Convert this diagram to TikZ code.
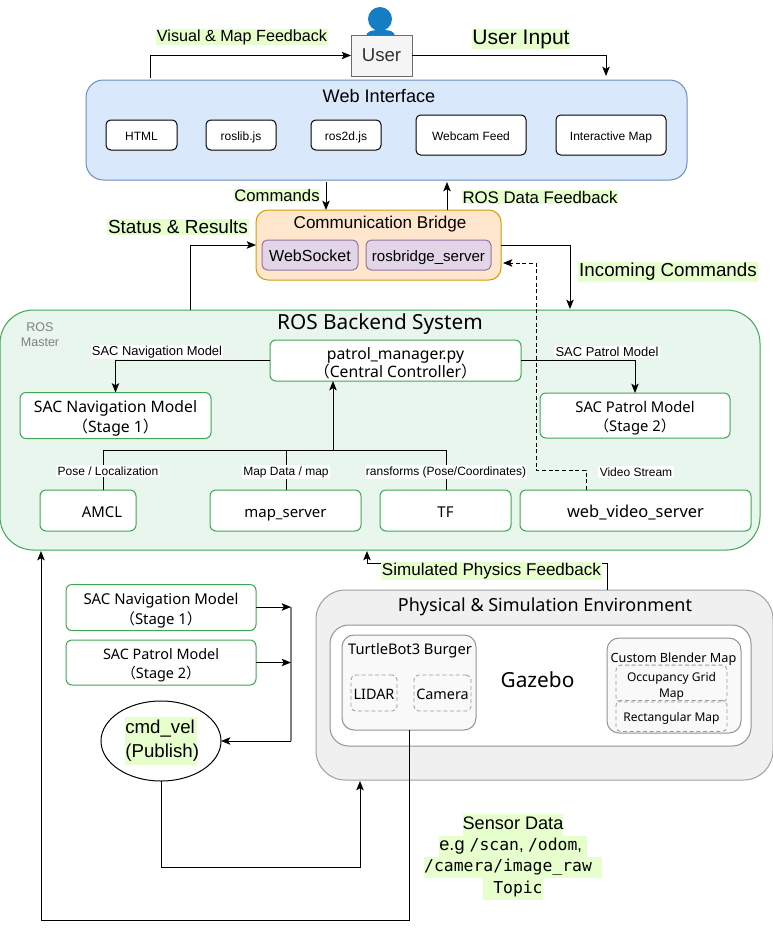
\documentclass[tikz,border=0pt]{standalone}
\usepackage{fontspec}
\setmainfont{Noto Sans}
\newfontfamily\ar{Liberation Sans}
\newfontfamily\cjk{Noto Sans CJK SC}
\newfontfamily\mn{DejaVu Sans Mono}
\usetikzlibrary{arrows.meta,shapes.geometric}
\newcommand\fsz[2]{\fontsize{#1}{#2}\selectfont}
\newcommand\lp{{\cjk （}}
\newcommand\rp{{\cjk ）}}
\newcommand\sg{\rule[-.3\baselineskip]{0pt}{1.3\baselineskip}}
\definecolor{hl}{HTML}{E6FFCC}
\definecolor{grn}{HTML}{3FA655}
\definecolor{rosfill}{HTML}{E9F6EE}
\definecolor{purplebd}{HTML}{9673A6}
\definecolor{purplefill}{HTML}{E1D5E7}
\newcommand\hb[1]{{\setlength{\fboxsep}{0pt}\colorbox{hl}{\strut #1}}}
\tikzset{
 sz/.style 2 args={minimum width=#1*0.75pt,minimum height=#2*0.75pt,inner sep=0pt,outer sep=0pt,align=center},
 webbox/.style={draw=black,fill=white,rounded corners=3.5pt,line width=.75pt,font=\ar\fsz{9}{11}},
 greenbox/.style={draw=grn,fill=white,rounded corners=4.5pt,line width=.75pt,font=\fsz{11.2}{15}},
 purplebox/.style={draw=purplebd,fill=purplefill,rounded corners=4pt,line width=.75pt},
 graybox/.style={draw=gray!85,fill=black!2.5,line width=.75pt,rounded corners=9pt},
 dashbox/.style={draw=gray!80,dashed,dash pattern=on 3pt off 2pt,line width=.6pt,rounded corners=3.5pt},
 hlabel/.style={fill=hl,inner sep=.6pt,outer sep=0pt,font=\ar\fsz{12.5}{14}},
 wlabel/.style={fill=white,inner sep=1pt,outer sep=0pt,font=\ar\fsz{9}{10}},
 arr/.style={draw=black,line width=.75pt,-{Stealth[length=7pt,width=5.6pt,inset=1.6pt]}},
 wire/.style={draw=black,line width=.75pt},
}
\begin{document}
\begin{tikzpicture}[x=.75pt,y=-.75pt]
\useasboundingbox (0,0) rectangle (773,929);

% user icon
\fill[fill={rgb,255:red,20;green,125;blue,195}] (380,19) ellipse (12 and 12);
\fill[fill={rgb,255:red,20;green,125;blue,195}] (366,37) .. controls (366,31) and (372,30) .. (381,30) .. controls (390,30) and (395,31) .. (395,37) -- cycle;
\node[sz={61}{41},draw=gray!85!black,fill=black!4,line width=.75pt,font=\ar\fsz{14}{16},text=black!80] (user) at (381.5,55.5) {User};

% web interface
\node[sz={601}{100},draw={rgb,255:red,108;green,142;blue,191},fill={rgb,255:red,218;green,232;blue,252},rounded corners=13pt,line width=.75pt] (web) at (386.5,130) {};
\node[font=\ar\fsz{13.6}{15}] (webt) at (379,96) {Web Interface};
\node[webbox,sz={71}{30}] (html) at (141.5,135) {\sg HTML};
\node[webbox,sz={70}{30}] (roslib) at (241,135) {\sg roslib.js};
\node[webbox,sz={70}{30}] (ros2d) at (346,135) {\sg ros2d.js};
\node[webbox,sz={110}{40}] (webcam) at (471,135) {\sg Webcam Feed};
\node[webbox,sz={110}{40}] (imap) at (611,135) {\sg Interactive Map};

% bridge
\node[sz={245}{70},draw={rgb,255:red,215;green,155;blue,0},fill={rgb,255:red,255;green,230;blue,204},rounded corners=9pt,line width=.75pt] (bridge) at (378.5,245) {};
\node[font=\ar\fsz{12.8}{15}] (bridget) at (380,224) {Communication Bridge};
\node[purplebox,sz={96}{30},font=\ar\fsz{12}{14}] (ws) at (310,255) {\sg WebSocket};
\node[purplebox,sz={125}{30},font=\ar\fsz{11.3}{14}] (rbs) at (428.5,255) {\sg rosbridge\_server};

% ROS backend
\node[sz={760}{240},draw=grn,fill=rosfill,rounded corners=25pt,line width=.75pt] (ros) at (380,430) {};
\node[font=\fsz{15.6}{18}] (rost) at (380,324.5) {ROS Backend System};
\node[font=\ar\fsz{9.4}{11.5},text=gray,align=center] (rosm) at (40,334.5) {ROS\\Master};
\node[greenbox,sz={251}{41},font=\fsz{11.8}{13.5}] (pm) at (395.5,360.5) {\rule{0pt}{14.5pt}patrol\_manager.py\\\lp Central Controller\rp\rule[-2.5pt]{0pt}{2.5pt}};
\node[greenbox,sz={191}{45},font=\fsz{11.8}{15}] (nav) at (115.5,415.5) {\sg SAC Navigation Model\\\lp Stage 1\rp\strut};
\node[greenbox,sz={190}{45},font=\fsz{11.1}{14.5}] (pat) at (635,415.5) {\sg SAC Patrol Model\\\lp Stage 2\rp\strut};
\node[greenbox,sz={96}{41}] (amcl) at (88,510.5) {\sg\hspace*{21pt}AMCL};
\node[greenbox,sz={151}{41}] (map) at (285.5,510.5) {\sg map\_server};
\node[greenbox,sz={131}{41}] (tf) at (445.5,510.5) {\sg TF};
\node[greenbox,sz={231}{41},font=\fsz{12.3}{15}] (wvs) at (635.5,510.5) {\sg web\_video\_server};

% ROS internal connectors
\coordinate (bus) at (333,450);
\draw[arr] (pm.west) -- (nav.north |- pm.west) -- (nav.north);
\draw[arr] (pm.east) -- (pat.north |- pm.east) -- (pat.north);
\draw[arr] (bus) -- (bus |- pm.south);
\coordinate (amx) at (103,450);
\draw[wire] (amx |- amcl.north) -- (amx) -- (bus);
\coordinate (mpx) at (286,450);
\draw[wire] (mpx |- map.north) -- (mpx);
\coordinate (tfx) at (446,450);
\draw[wire] (tfx |- tf.north) -- (tfx) -- (bus);
\node[wlabel,font=\ar\fsz{9.7}{11}] (l1) at (157,352) {SAC Navigation Model};
\node[wlabel,font=\ar\fsz{9.7}{11}] (l2) at (607,352) {SAC Patrol Model};
\node[wlabel] (l3) at (108,471) {Pose / Localization};
\node[wlabel] (l4) at (286,472) {Map Data / map};
\node[wlabel] (l5) at (446,472) {ransforms (Pose/Coordinates)};
\node[wlabel] (l6) at (636,472) {Video Stream};

% top connectors
\coordinate (vx) at (150,78);
\draw[arr] (vx) |- (user.west);
\node[hlabel,font=\ar\fsz{12.1}{14}] (vl) at (242,37) {Visual \& Map Feedback};
\coordinate (ux) at (606,76);
\draw[arr] (user.east) -| (ux);
\node[hlabel,font=\ar\fsz{15.8}{18}] (ul) at (521,39) {User Input};
\coordinate (cx) at (326,182);
\draw[arr] (cx) -- (cx |- bridge.north);
\node[hlabel] (cl) at (277,195.5) {Commands};
\coordinate (rx) at (447,182);
\draw[arr] (rx |- bridge.north) -- (rx);
\node[hlabel,font=\ar\fsz{12.6}{14}] (rl) at (540,197) {ROS Data Feedback};
\node[hlabel,font=\ar\fsz{14.2}{16}] (sl) at (178,227) {Status \& Results};
\coordinate (sx) at (190,310);
\draw[arr] (sx) |- (bridge.west);
\coordinate (ix) at (570,309);
\draw[arr] (bridge.east) -| (ix);
\node[hlabel,font=\ar\fsz{14.1}{16}] (il) at (668,272) {Incoming Commands};

% dashed video stream
\coordinate (dv) at (586,490);
\coordinate (dj) at (536,470);
\coordinate (dt) at (503,263);
\draw[arr,densely dashed] (dv) |- (dj) -- (dj |- dt) -- (dt);

% simulation environment
\node[sz={457}{190},draw=gray!75,fill=black!6,rounded corners=22pt,line width=.75pt] (sim) at (544.5,685) {};
\node[font=\fsz{13.5}{16}] (simt) at (545,607) {Physical \& Simulation Environment};
\node[sz={421}{121},draw=gray!85,fill=white,rounded corners=14pt,line width=.75pt] (gz) at (540.5,685.5) {};
\node[font=\fsz{15.6}{18}] (gzt) at (537.5,680) {Gazebo};
\node[graybox,sz={134}{95}] (tb) at (409,682.5) {};
\node[font=\fsz{11}{13}] (tbt) at (410,651) {TurtleBot3 Burger};
\node[dashbox,sz={46}{36},font=\fsz{10.8}{13}] (lidar) at (374,693) {\sg LIDAR};
\node[dashbox,sz={57}{36},font=\fsz{10.8}{13}] (cam) at (442.5,693) {\sg Camera};
\node[graybox,sz={134}{95}] (cb) at (674,685.5) {};
\node[font=\fsz{9.5}{12}] (cbt) at (673.5,659) {Custom Blender Map};
\node[dashbox,sz={111}{31},font=\fsz{9}{12}] (occ) at (671.5,683.5) {\sg Occupancy Grid\\Map\strut};
\node[dashbox,sz={111}{31},font=\fsz{9}{11}] (rect) at (671.5,716) {\sg Rectangular Map};

% feedback from simulation
\coordinate (pf) at (367,551);
\draw[arr] (sim.north -| 607,0) |- (pf |- 0,563) -- (pf);
\node[hlabel,font=\ar\fsz{12.8}{14}] (pl) at (491.5,571) {Simulated Physics Feedback};

% left models
\node[greenbox,sz={190}{45}] (nav2) at (161,607.5) {\sg SAC Navigation Model\\\lp Stage 1\rp\strut};
\node[greenbox,sz={190}{45},font=\fsz{10.8}{14.5}] (pat2) at (161,662.5) {\sg SAC Patrol Model\\\lp Stage 2\rp\strut};
\node[ellipse,sz={120}{80},draw=black,fill=white,line width=.75pt,font=\ar\fsz{14}{18}] (cmd) at (161,741) {\hb{\makebox[53.5pt][l]{cmd\_vel}}\\\hb{\makebox[53.5pt][l]{(Publish)}}};
\coordinate (jt) at (291,607);
\coordinate (jb) at (291,741);
\draw[draw=gray,line width=1pt] (jt) -- (jb);
\draw[arr] (nav2.east |- jt) -- (jt);
\draw[arr] (pat2.east) -- (pat2.east -| jt);
\draw[arr] (jb) -- (cmd.east);

% cmd_vel to sim, sensor data to ros
\coordinate (cb1) at (161,867);
\coordinate (sa) at (360,781);
\draw[arr] (cmd.south) |- (cb1 -| sa) -- (sa);
\coordinate (sd) at (409,920);
\coordinate (rb) at (41,551);
\draw[arr] (tb.south) -- (sd) -| (rb);
\node[font=\mn\fsz{12.3}{16},align=center] (sdl) at (513,857) {\hb{{\ar\fsz{13.6}{16}Sensor Data}}\\\hb{{\ar\fsz{13.6}{16}e.g }/scan{\ar, }/odom{\ar, }}\\\hb{/camera/image\_raw }\\\hb{ Topic}};
\end{tikzpicture}
\end{document}
